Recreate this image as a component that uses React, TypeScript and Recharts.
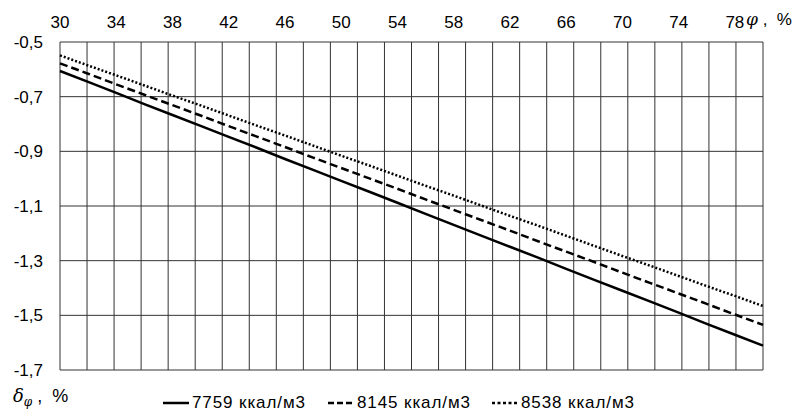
import React from "react";
import { LineChart, Line, XAxis, YAxis, CartesianGrid } from "recharts";

// φ, % — categories every 2 %
const phi = [30, 32, 34, 36, 38, 40, 42, 44, 46, 48, 50, 52, 54, 56, 58, 60, 62, 64, 66, 68, 70, 72, 74, 76, 78, 80];

// δφ, % for each gas calorific value
const s7759 = [-0.606, -0.646, -0.686, -0.727, -0.767, -0.807, -0.847, -0.887, -0.928, -0.968, -1.008, -1.048, -1.088, -1.129, -1.169, -1.209, -1.249, -1.289, -1.33, -1.37, -1.41, -1.45, -1.49, -1.531, -1.571, -1.611];
const s8145 = [-0.578, -0.616, -0.655, -0.693, -0.731, -0.769, -0.808, -0.846, -0.884, -0.923, -0.961, -0.999, -1.037, -1.076, -1.114, -1.152, -1.19, -1.229, -1.267, -1.305, -1.344, -1.382, -1.42, -1.458, -1.497, -1.535];
const s8538 = [-0.549, -0.586, -0.622, -0.659, -0.696, -0.732, -0.769, -0.806, -0.842, -0.879, -0.916, -0.952, -0.989, -1.026, -1.062, -1.099, -1.136, -1.172, -1.209, -1.246, -1.283, -1.319, -1.356, -1.393, -1.429, -1.466];

const yTicks = [-0.5, -0.7, -0.9, -1.1, -1.3, -1.5, -1.7];

const series = [
  { key: "a", name: "7759 ккал/м3", dash: undefined, legendDash: undefined, lx: 163 },
  { key: "b", name: "8145 ккал/м3", dash: "8 4", legendDash: "6 3", lx: 328 },
  { key: "c", name: "8538 ккал/м3", dash: "2 2", legendDash: "3 2.5", lx: 492 },
];

const data = phi.map((p, i) => ({ phi: p, a: s7759[i], b: s8145[i], c: s8538[i] }));

const font = "'Liberation Sans', Arial, sans-serif";
const serif = "'DejaVu Serif', serif";
const fs = 17;

export default function App() {
  const n = phi.length;
  return (
    <div style={{ margin: -8, width: 800, height: 418, background: "#fff", position: "relative", overflow: "hidden" }}>
      <LineChart width={800} height={418} data={data} margin={{ top: 0, right: 37, bottom: 48, left: 0 }}>
        <CartesianGrid
          stroke="#333"
          strokeWidth={1}
          verticalCoordinatesGenerator={({ offset }: any) =>
            Array.from({ length: n + 1 }, (_, i) => offset.left + (i * offset.width) / n)
          }
        />
        <XAxis
          dataKey="phi"
          orientation="top"
          height={42}
          interval={1}
          axisLine={false}
          tickLine={false}
          tickMargin={8}
          tick={{ fill: "#000", fontSize: fs, fontFamily: font }}
        />
        <YAxis
          type="number"
          domain={[-1.7, -0.5]}
          ticks={yTicks}
          width={60}
          axisLine={false}
          tickLine={false}
          tickMargin={11}
          tickFormatter={(v: number) => v.toFixed(1).replace(".", ",")}
          tick={{ fill: "#000", fontSize: fs, fontFamily: font }}
        />
        {series.map((s) => (
          <Line
            key={s.key}
            dataKey={s.key}
            name={s.name}
            stroke="#000"
            strokeWidth={2.5}
            strokeDasharray={s.dash}
            dot={false}
            activeDot={false}
            isAnimationActive={false}
          />
        ))}
      </LineChart>
      <div style={{ position: "absolute", left: 746, top: 9, fontFamily: font, fontSize: fs, whiteSpace: "pre", lineHeight: "20px" }}>
        <i style={{ fontFamily: serif }}>φ</i>
        {" ,  %"}
      </div>
      <div style={{ position: "absolute", left: 13, top: 385, fontFamily: font, fontSize: 18, whiteSpace: "pre", lineHeight: "22px" }}>
        <i style={{ fontFamily: serif }}>δ</i>
        <span style={{ fontSize: 12, fontStyle: "italic", fontFamily: serif, position: "relative", top: 4 }}>φ</span>
        {" ,  %"}
      </div>
      {series.map((s) => (
        <div
          key={s.key}
          style={{ position: "absolute", left: s.lx, top: 393, display: "flex", alignItems: "center", fontFamily: font, fontSize: fs, letterSpacing: 0.9 }}
        >
          <svg width={26} height={10}>
            <line x1={0} y1={5} x2={26} y2={5} stroke="#000" strokeWidth={2.5} strokeDasharray={s.legendDash} />
          </svg>
          <span style={{ marginLeft: 3 }}>{s.name}</span>
        </div>
      ))}
    </div>
  );
}
